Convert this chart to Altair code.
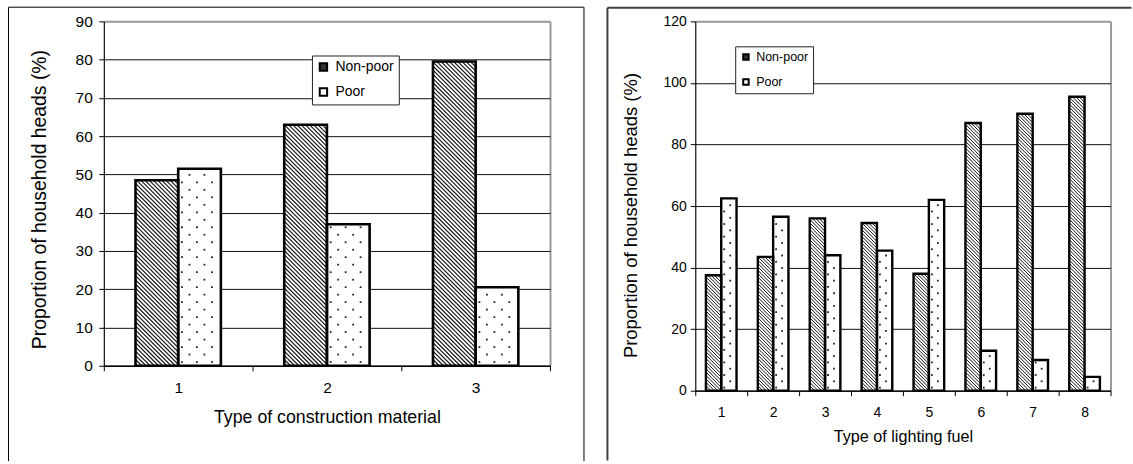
import altair as alt
import pandas as pd

FONT = "Liberation Sans"

series = ["Non-poor", "Poor"]

# Panel 1: household heads by type of construction material
material_types = [1, 2, 3]
material_nonpoor = [48.5, 63.0, 79.5]
material_poor = [51.5, 37.0, 20.5]

# Panel 2: household heads by type of lighting fuel
fuel_types = [1, 2, 3, 4, 5, 6, 7, 8]
fuel_nonpoor = [37.5, 43.5, 56.0, 54.5, 38.0, 87.0, 90.0, 95.5]
fuel_poor = [62.5, 56.5, 44.0, 45.5, 62.0, 13.0, 10.0, 4.5]


def bar_table(types, nonpoor, poor, half):
    rows = []
    for t, a, b in zip(types, nonpoor, poor):
        rows.append(dict(type=t, series="Non-poor", value=a, zero=0.0, x0=t - half, x1=t))
        rows.append(dict(type=t, series="Poor", value=b, zero=0.0, x0=t, x1=t + half))
    return pd.DataFrame(rows)


def hatch_table(bars, sx, sy, step):
    """Diagonal (top-left to bottom-right) hatch segments clipped to each Non-poor bar."""
    segs = []
    for r in bars[bars.series == "Non-poor"].itertuples():
        w = (r.x1 - r.x0) * sx
        h = r.value * sy
        c = step / 2
        while c < w + h:
            xa = max(0.0, c - h)
            xb = min(w, c)
            segs.append(dict(xa=r.x0 + xa / sx, ya=(c - xa) / sy,
                             xb=r.x0 + xb / sx, yb=(c - xb) / sy))
            c += step
    return pd.DataFrame(segs)


def dot_table(bars, sx, sy, col, row):
    """Staggered dot fill for the Poor bars."""
    pts = []
    for r in bars[bars.series == "Poor"].itertuples():
        w = (r.x1 - r.x0) * sx
        h = r.value * sy
        k = 0
        yy = row / 2
        while yy < h - 2:
            xx = col / 4 + (k % 2) * col / 2
            while xx < w - 2:
                pts.append(dict(x=r.x0 + xx / sx, y=yy / sy))
                xx += col
            yy += row
            k += 1
    return pd.DataFrame(pts)


def panel(types, nonpoor, poor, p):
    n = len(types)
    sx = p["width"] / n
    sy = p["height"] / p["ymax"]
    bars = bar_table(types, nonpoor, poor, p["half"])
    hatch = hatch_table(bars, sx, sy, p["hatch"])
    dots = dot_table(bars, sx, sy, p["dotcol"], p["dotrow"])

    edges = [i + 0.5 for i in range(n + 1)]
    last = n + 0.5
    xaxis = alt.Axis(
        values=edges,
        labelExpr=f"datum.value < {n} ? format(datum.value + 0.5, 'd') : ''",
        labelOffset={"condition": {"test": f"datum.value === {last}", "value": 0}, "value": sx / 2},
        labelFlush=False, labelOverlap=False,
        labelFontSize=p["tick_fs"], labelPadding=p["xlabpad"],
        tickSize=5, tickColor="black", domainColor="black", domainWidth=1.3,
        grid=True, gridColor="#9a9a9a", gridWidth=2,
        gridOpacity={"condition": {"test": f"datum.value === {last}", "value": 1}, "value": 0},
        title=p["xtitle"], titleFontSize=p["xtitle_fs"], titleFontWeight="normal",
        titleX=p["width"] / 2, titleY=p["xtitle_y"], titleBaseline="middle",
        titleAlign="center",
    )
    yaxis = alt.Axis(
        values=list(range(0, p["ymax"] + 1, p["ystep"])),
        labelFontSize=p["tick_fs"], labelPadding=p["ylabpad"],
        tickSize=5, tickColor="black", domainColor="black", domainWidth=1.1,
        grid=True,
        gridColor={"condition": {"test": f"datum.value === {p['ymax']}", "value": "#9a9a9a"}, "value": "#111111"},
        gridWidth={"condition": {"test": f"datum.value === {p['ymax']}", "value": 2}, "value": 1},
        title="Proportion of household heads (%)", titleFontSize=p["ytitle_fs"],
        titleFontWeight="normal", titleX=p["ytitle_x"], titleY=p["ytitle_y"],
        titleBaseline="middle", titleAlign="center", titleAngle=270,
    )
    xs = alt.Scale(domain=[0.5, n + 0.5], nice=False, zero=False)
    ys = alt.Scale(domain=[0, p["ymax"]], nice=False)

    def X(f):
        return alt.X(f"{f}:Q", scale=xs, axis=xaxis)

    def Y(f):
        return alt.Y(f"{f}:Q", scale=ys, axis=yaxis)

    base = alt.Chart(bars)
    fill_layer = base.mark_rect(fill="white", strokeOpacity=0).encode(
        x=X("x0"), x2="x1", y=Y("value"), y2="zero")
    hatch_layer = alt.Chart(hatch).mark_rule(color="#141414", strokeWidth=p["hatch_w"]).encode(
        x=X("xa"), x2="xb", y=Y("ya"), y2="yb")
    dot_layer = alt.Chart(dots).mark_square(size=3.2, color="#222222", opacity=1).encode(
        x=X("x"), y=Y("y"))
    outline_layer = base.mark_rect(fillOpacity=0, stroke="black", strokeWidth=p["bar_sw"]).encode(
        x=X("x0"), x2="x1", y=Y("value"), y2="zero")

    legend_layer = base.transform_filter("datum.value < 0").mark_square(opacity=1).encode(
        fill=alt.Fill(
            "series:N",
            scale=alt.Scale(domain=series, range=["#333333", "#ffffff"]),
            legend=alt.Legend(
                orient="none", legendX=p["legx"], legendY=p["legy"], title=None,
                direction="vertical", fillColor="white", strokeColor="#222222",
                padding=p["legpad"], rowPadding=p["legrow"],
                labelFontSize=p["leg_fs"], labelFont=FONT, labelColor="black",
                labelExpr=p["leglabel"],
                symbolType="square", symbolSize=p["legsym"], symbolStrokeColor="black",
                symbolStrokeWidth=2, labelOffset=p["legoff"],
            ),
        )
    )

    one = alt.Data(values=[{"k": 0}])
    fx0, fx1, fy0, fy1 = p["frame"]
    fc, fw = p["frame_color"], p["frame_w"]
    frame = [
        alt.Chart(one).mark_rule(color=fc, strokeWidth=fw).encode(
            x=alt.value(fx0), y=alt.value(fy0), y2=alt.value(fy1)),
        alt.Chart(one).mark_rule(color=fc, strokeWidth=fw).encode(
            x=alt.value(fx0), x2=alt.value(fx1), y=alt.value(fy0)),
    ]
    if p["frame_right"]:
        frame.append(alt.Chart(one).mark_rule(color=fc, strokeWidth=fw).encode(
            x=alt.value(fx1), y=alt.value(fy0), y2=alt.value(fy1)))

    return alt.layer(fill_layer, hatch_layer, dot_layer, outline_layer, legend_layer, *frame).properties(
        width=p["width"], height=p["height"])


left = panel(material_types, material_nonpoor, material_poor, dict(
    width=447, height=345, ymax=90, ystep=10, half=0.287,
    hatch=4.2, hatch_w=1.15, dotcol=15, dotrow=7.5, bar_sw=2.6,
    tick_fs=15.5, xlabpad=10, ylabpad=6.5,
    xtitle="Type of construction material", xtitle_fs=17.8, xtitle_y=51.5,
    ytitle_fs=19.4, ytitle_x=-64, ytitle_y=178,
    legx=208.5, legy=34.2, legpad=4.5, legrow=9, leg_fs=14, legsym=55, legoff=5,
    leglabel="datum.label + '\u00a0'",
    frame=(-95.5, 481, -14.2, 440.5), frame_color="black", frame_w=1, frame_right=True,
))

right = panel(fuel_types, fuel_nonpoor, fuel_poor, dict(
    width=416, height=370, ymax=120, ystep=20, half=0.295,
    hatch=3.4, hatch_w=1.0, dotcol=12, dotrow=6.3, bar_sw=2.4,
    tick_fs=14, xlabpad=9.5, ylabpad=4,
    xtitle="Type of lighting fuel", xtitle_fs=16.2, xtitle_y=45.5,
    ytitle_fs=18.5, ytitle_x=-65, ytitle_y=194,
    legx=40, legy=25, legpad=4.5, legrow=11, leg_fs=12.5, legsym=30, legoff=4,
    leglabel="datum.label + '\u00a0\u00a0\u00a0'",
    frame=(-88, 437, -13.7, 440), frame_color="#404040", frame_w=2, frame_right=False,
))

chart = alt.hconcat(left, right, spacing=20.5).resolve_scale(
    fill="independent"
).resolve_legend(
    fill="independent"
).properties(
    padding={"left": 7, "top": 5, "right": 0, "bottom": 0},
    background="white",
).configure_view(stroke="transparent").configure_axis(
    labelFont=FONT, titleFont=FONT, labelColor="black", titleColor="black",
).configure(font=FONT)

chart.save("out.html", embed_options={"renderer": "svg", "actions": False})
